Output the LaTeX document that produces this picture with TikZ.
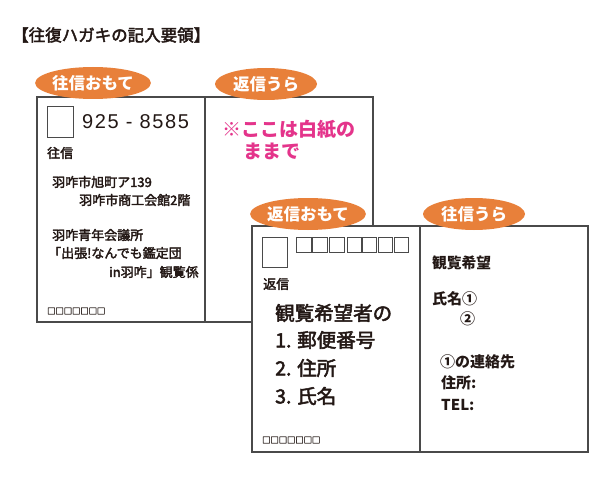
\documentclass[tikz,border=0pt]{standalone}
\usepackage{fontspec}
\setmainfont{Noto Sans CJK JP}
\newfontfamily\medfont{Noto Sans CJK JP}[FakeBold=2.5]
\newfontfamily\zipfont{Liberation Sans}[LetterSpace=8]
\usetikzlibrary{shapes.geometric}
\definecolor{Ink}{HTML}{231815}
\definecolor{Frame}{HTML}{4A4A4A}
\definecolor{Orange}{HTML}{E8803A}
\definecolor{Pink}{HTML}{E4348B}
\newcommand\fsz[1]{\fontsize{#1}{#1}\selectfont}
\tikzset{
  card/.style={draw=Frame,fill=white,line width=1.1pt},
  postbox/.style={draw=Frame,line width=1pt},
  tab/.style={ellipse,fill=Orange,minimum width=102pt,minimum height=32pt,inner sep=0pt,
    text=white,font=\fsz{16.5}\bfseries},
  txt/.style={anchor=west,inner sep=0pt,text=Ink,font=\medfont\fsz{13}},
  big/.style={txt,font=\medfont\fsz{19.5}},
  back/.style={txt,font=\bfseries\fsz{15}},
  marks/.style={txt,font=\medfont\fsz{8.3}},
}

\begin{document}
\begin{tikzpicture}[x=1pt,y=-1pt]
  \useasboundingbox(0,0)rectangle(600,500);
  \node[txt,font=\medfont\fsz{16.5}](title)at(12,35){【往復ハガキの記入要領】};
  % 往信ハガキ
  \draw[card](37,97)rectangle(373,322);
  \draw[card](205,97)--(205,322);
  \draw[postbox](47,107)rectangle(73,138);
  \node[txt,font=\zipfont\fsz{20}](zip)at(82,122){925 - 8585};
  \node[txt](oushin)at(47,153){往信};
  \node[txt](addr1)at(52,182){羽咋市旭町ア139};
  \node[txt](addr2)at(79,200){羽咋市商工会館2階};
  \node[txt](dest1)at(52,235){羽咋青年会議所};
  \node[txt](dest2)at(48,253){「出張!なんでも鑑定団};
  \node[txt](dest3)at(109,272){in羽咋」観覧係};
  \node[marks](marksA)at(47,311){□□□□□□□};
  \node[txt,text=Pink,font=\fsz{19}\bfseries](blank1)at(222,130){※ここは白紙の};
  \node[txt,text=Pink,font=\fsz{19}\bfseries](blank2)at(243,151){ままで};
  \node[tab](tabA)at(93,83){往信おもて};
  \node[tab](tabB)at(266,84){返信うら};
  % 返信ハガキ
  \draw[card](252,226)rectangle(588,452);
  \draw[card](420,226)--(420,452);
  \draw[postbox](262,237)rectangle(287,267);
  \foreach \i in {0,1,2}
    \draw[postbox]({296+16.5*\i},237)rectangle++(15,15);
  \foreach \i in {0,...,3}
    \draw[postbox]({347+15.7*\i},237)rectangle++(14,15);
  \node[txt](henshin)at(263,284){返信};
  \node[big](req)at(275,313){観覧希望者の};
  \node[big](item1)at(275,340){1. 郵便番号};
  \node[big](item2)at(275,368){2. 住所};
  \node[big](item3)at(275,396){3. 氏名};
  \node[marks](marksB)at(262,440){□□□□□□□};
  \node[back,font=\bfseries\fsz{14.75}](wish)at(432,263){観覧希望};
  \node[back](name1)at(432,299){氏名①};
  \node[back](name2)at(460,319){②};
  \node[back](contact)at(440,362){①の連絡先};
  \node[back](addr)at(441,383){住所:};
  \node[back](tel)at(441,405){TEL:};
  \node[tab](tabC)at(308,214){返信おもて};
  \node[tab](tabD)at(474,214){往信うら};
\end{tikzpicture}
\end{document}
